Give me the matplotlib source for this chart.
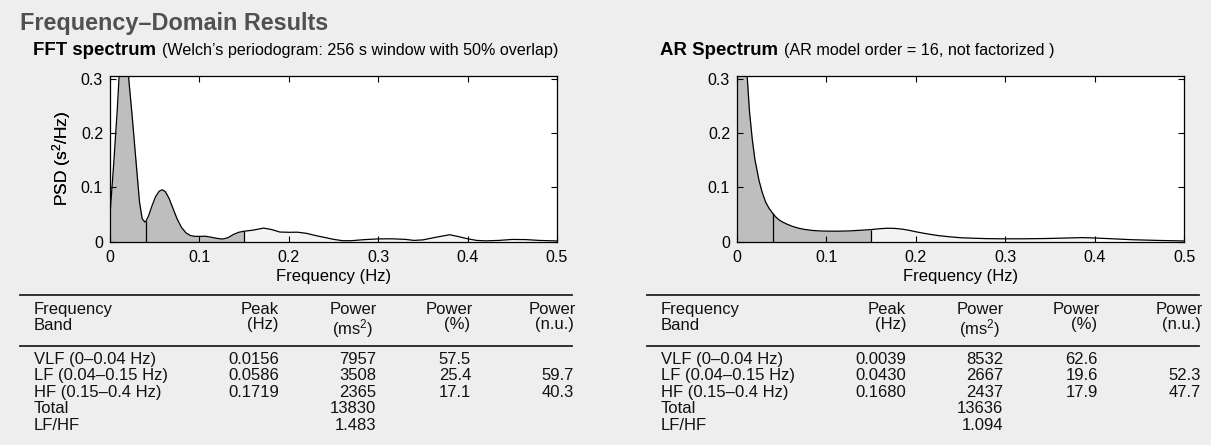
import numpy as np
import matplotlib
matplotlib.use("Agg")
import matplotlib.pyplot as plt

plt.rcParams['font.family'] = ['Liberation Sans', 'DejaVu Sans']
plt.rcParams['mathtext.default'] = 'regular'

# ---------------- data ----------------
fft_freq = [0.000, 0.004, 0.008, 0.010, 0.013, 0.0156, 0.018, 0.021, 0.025, 0.029,
            0.033, 0.036, 0.039, 0.040, 0.043, 0.047, 0.051, 0.055, 0.0586, 0.062,
            0.066, 0.070, 0.075, 0.080, 0.085, 0.090, 0.095, 0.100, 0.107, 0.113,
            0.119, 0.126, 0.132, 0.138, 0.144, 0.150, 0.160, 0.1719, 0.181, 0.190,
            0.200, 0.210, 0.220, 0.230, 0.240, 0.250, 0.260, 0.270, 0.285, 0.300,
            0.315, 0.330, 0.340, 0.350, 0.365, 0.380, 0.390, 0.400, 0.410, 0.420,
            0.435, 0.450, 0.465, 0.480, 0.500]
fft_psd = [0.050, 0.14, 0.24, 0.30, 0.38, 0.42, 0.40, 0.30, 0.228, 0.15,
           0.073, 0.042, 0.036, 0.037, 0.047, 0.066, 0.083, 0.093, 0.0957, 0.092,
           0.080, 0.063, 0.042, 0.026, 0.016, 0.011, 0.0095, 0.0095, 0.0097, 0.008,
           0.006, 0.0045, 0.007, 0.013, 0.017, 0.019, 0.021, 0.0248, 0.022, 0.0175,
           0.017, 0.0172, 0.015, 0.011, 0.0075, 0.004, 0.0015, 0.0015, 0.0035, 0.0048,
           0.005, 0.004, 0.002, 0.003, 0.008, 0.0125, 0.009, 0.005, 0.002, 0.0012,
           0.002, 0.0038, 0.0035, 0.002, 0.001]

ar_freq = [0.000, 0.002, 0.0039, 0.006, 0.008, 0.010, 0.0116, 0.014, 0.017, 0.020,
           0.0246, 0.028, 0.032, 0.036, 0.040, 0.043, 0.047, 0.051, 0.056, 0.062,
           0.068, 0.075, 0.084, 0.095, 0.110, 0.125, 0.140, 0.150, 0.160, 0.168,
           0.176, 0.185, 0.193, 0.200, 0.208, 0.215, 0.225, 0.237, 0.250, 0.265,
           0.280, 0.295, 0.320, 0.345, 0.365, 0.386, 0.400, 0.420, 0.442, 0.470, 0.500]
ar_psd = [0.55, 0.58, 0.59, 0.52, 0.43, 0.35, 0.30, 0.24, 0.19, 0.152,
          0.113, 0.092, 0.073, 0.061, 0.052, 0.046, 0.040, 0.036, 0.032, 0.028,
          0.025, 0.0225, 0.0205, 0.0193, 0.019, 0.0195, 0.021, 0.022, 0.0237, 0.0245,
          0.0243, 0.0228, 0.0205, 0.018, 0.0155, 0.0135, 0.011, 0.0088, 0.007, 0.006,
          0.0053, 0.005, 0.005, 0.0055, 0.0063, 0.0072, 0.0065, 0.005, 0.0033, 0.002, 0.001]

band_names = ["VLF (0\u20130.04 Hz)", "LF (0.04\u20130.15 Hz)", "HF (0.15\u20130.4 Hz)"]
band_edges = [0.0, 0.04, 0.15, 0.4]

fft_peak = ["0.0156", "0.0586", "0.1719"]
fft_power = ["7957", "3508", "2365"]
fft_pct = ["57.5", "25.4", "17.1"]
fft_nu = ["", "59.7", "40.3"]
fft_total = "13830"
fft_lfhf = "1.483"

ar_peak = ["0.0039", "0.0430", "0.1680"]
ar_power = ["8532", "2667", "2437"]
ar_pct = ["62.6", "19.6", "17.9"]
ar_nu = ["", "52.3", "47.7"]
ar_total = "13636"
ar_lfhf = "1.094"

x_ticks = [0, 0.1, 0.2, 0.3, 0.4, 0.5]
x_ticklabels = ["0", "0.1", "0.2", "0.3", "0.4", "0.5"]
y_ticks = [0, 0.1, 0.2, 0.3]
y_ticklabels = ["0", "0.1", "0.2", "0.3"]

# ---------------- figure ----------------
W, H = 1211, 445
fig = plt.figure(figsize=(W / 100, H / 100), dpi=100)
fig.patch.set_facecolor('#eeeeee')


def fx(px):
    return px / W


def fy(py):
    return 1 - py / H


DARK = '#bebebe'
LIGHT = '#f4f4f4'


def draw_spectrum(left_px, freq, psd):
    ax = fig.add_axes([fx(left_px), fy(241.5), 447 / W, (241.5 - 76) / H])
    ax.set_facecolor('white')
    f = np.array(freq)
    p = np.array(psd)
    vlf_lf = (f >= band_edges[0]) & (f <= band_edges[2])
    hf = (f >= band_edges[2]) & (f <= band_edges[3])
    ax.fill_between(f, 0, p, where=vlf_lf, color=DARK, linewidth=0)
    ax.fill_between(f, 0, p, where=hf, color=LIGHT, linewidth=0)
    for e in band_edges[1:3]:
        i = int(np.argmin(np.abs(f - e)))
        ax.vlines(f[i], 0, p[i], color='black', linewidth=0.9)
    ax.plot(f, p, color='black', linewidth=0.9)
    ax.set_xlim(0, 0.5)
    ax.set_ylim(0, 0.306)
    ax.set_xticks(x_ticks)
    ax.set_xticklabels(x_ticklabels)
    ax.set_yticks(y_ticks)
    ax.set_yticklabels(y_ticklabels)
    ax.tick_params(direction='in', length=4, width=0.8, top=True, right=True,
                   labelsize=11.5, colors='black')
    ax.tick_params(axis='x', pad=6)
    ax.tick_params(axis='y', pad=5)
    for s in ax.spines.values():
        s.set_linewidth(0.9)
    ax.set_xlabel("Frequency (Hz)", fontsize=12, va='center')
    ax.xaxis.set_label_coords(0.5, (241.5 - 277) / (241.5 - 76))
    ax.set_ylabel("PSD (s$^2$/Hz)", fontsize=12.5, va='center')
    ax.yaxis.set_label_coords((62 - left_px) / 447, 0.5)
    return ax


def draw_table(dx, peak, power, pct, nu, total, lfhf):
    fig.add_artist(plt.Line2D([fx(20 + dx), fx(572 + dx)], [fy(295.3), fy(295.3)],
                              color='#222222', linewidth=1.3))
    fig.add_artist(plt.Line2D([fx(20 + dx), fx(572 + dx)], [fy(345.8), fy(345.8)],
                              color='#222222', linewidth=1.3))
    fs = 12
    kw = dict(fontsize=fs, va='baseline', color='#111111')
    h1, h2, h2s = 314, 329.5, 334.5
    # headers
    fig.text(fx(34 + dx), fy(h1), "Frequency", ha='left', **kw)
    fig.text(fx(34 + dx), fy(h2), "Band", ha='left', **kw)
    fig.text(fx(279 + dx), fy(h1), "Peak", ha='right', **kw)
    fig.text(fx(279 + dx), fy(h2), "(Hz)", ha='right', **kw)
    fig.text(fx(377 + dx), fy(h1), "Power", ha='right', **kw)
    fig.text(fx(373 + dx), fy(h2s), "(ms$^2$)", ha='right', **kw)
    fig.text(fx(473 + dx), fy(h1), "Power", ha='right', **kw)
    fig.text(fx(470 + dx), fy(h2), "(%)", ha='right', **kw)
    fig.text(fx(576 + dx), fy(h1), "Power", ha='right', **kw)
    fig.text(fx(574 + dx), fy(h2), "(n.u.)", ha='right', **kw)
    rows_y = [364, 380.4, 396.8, 413.2, 429.6]
    for i in range(3):
        y = fy(rows_y[i])
        fig.text(fx(34 + dx), y, band_names[i], ha='left', **kw)
        fig.text(fx(279 + dx), y, peak[i], ha='right', **kw)
        fig.text(fx(376 + dx), y, power[i], ha='right', **kw)
        fig.text(fx(471 + dx), y, pct[i], ha='right', **kw)
        if nu[i]:
            fig.text(fx(573.5 + dx), y, nu[i], ha='right', **kw)
    fig.text(fx(34 + dx), fy(rows_y[3]), "Total", ha='left', **kw)
    fig.text(fx(376 + dx), fy(rows_y[3]), total, ha='right', **kw)
    fig.text(fx(34 + dx), fy(rows_y[4]), "LF/HF", ha='left', **kw)
    fig.text(fx(376 + dx), fy(rows_y[4]), lfhf, ha='right', **kw)


def draw_subtitle(x_px, bold, rest):
    t = fig.text(fx(x_px), fy(55), bold, fontsize=13.4, weight='bold',
                 va='baseline', ha='left', color='black')
    fig.canvas.draw()
    bb = t.get_window_extent()
    fig.text((bb.x1 + 6) / W, fy(55), rest, fontsize=11.6, va='baseline',
             ha='left', color='black')


fig.text(fx(20), fy(30), "Frequency\u2013Domain Results", fontsize=16.8,
         weight='bold', color='#505050', va='baseline', ha='left')

draw_spectrum(110, fft_freq, fft_psd)
draw_spectrum(737, ar_freq, ar_psd)

draw_subtitle(33, "FFT spectrum", "(Welch\u2019s periodogram: 256 s window with 50% overlap)")
draw_subtitle(660, "AR Spectrum", "(AR model order = 16, not factorized )")

draw_table(0, fft_peak, fft_power, fft_pct, fft_nu, fft_total, fft_lfhf)
draw_table(627, ar_peak, ar_power, ar_pct, ar_nu, ar_total, ar_lfhf)

fig.savefig("out.png", dpi=100, facecolor=fig.get_facecolor())
